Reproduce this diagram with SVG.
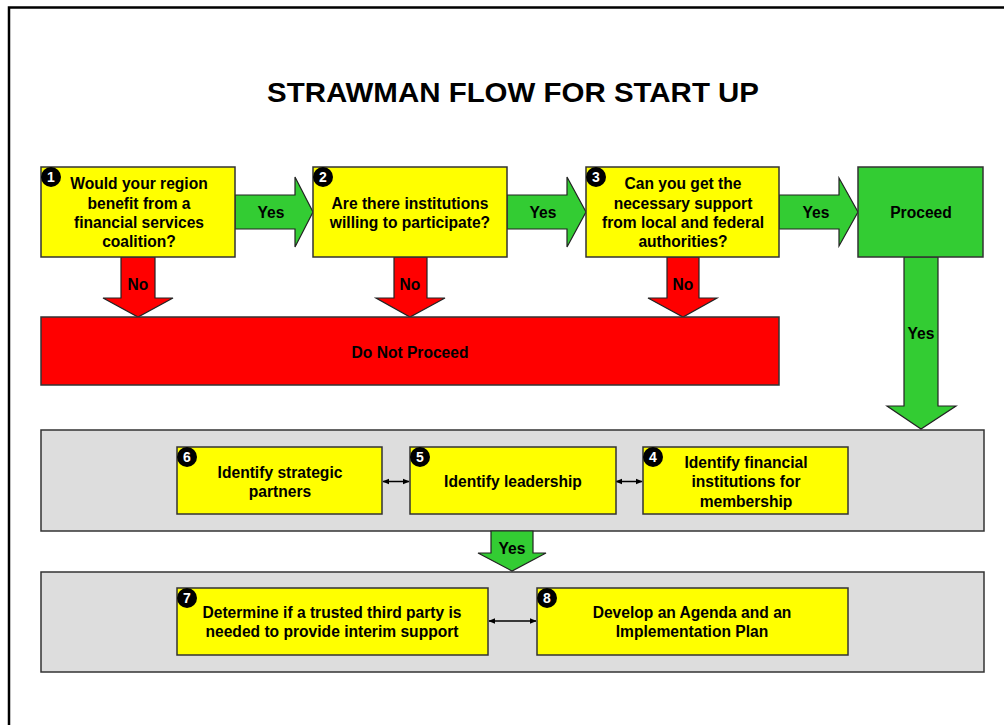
<svg xmlns="http://www.w3.org/2000/svg" width="1004" height="725" viewBox="0 0 1004 725">
<style>
text{font-family:"Liberation Sans",Arial,sans-serif;font-weight:bold;fill:#000}
.t{font-size:15.6px;text-anchor:middle}
.box{fill:#FFFF00;stroke:#333;stroke-width:1.5}
.gbox{fill:#33CC33;stroke:#333;stroke-width:1.5}
.rbox{fill:#FF0000;stroke:#333;stroke-width:1.5}
.panel{fill:#DDDDDD;stroke:#333;stroke-width:1.5}
.ga{fill:#33CC33;stroke:#222;stroke-width:1.2}
.ra{fill:#FF0000;stroke:#222;stroke-width:1.2}
.badge{fill:#000}
.bn{font-size:14px;fill:#fff;text-anchor:middle}
.dl{stroke:#000;stroke-width:1.5;fill:none;marker-start:url(#ah);marker-end:url(#ah)}
</style>
<defs>
<marker id="ah" viewBox="0 0 10 10" refX="9" refY="5" markerWidth="7" markerHeight="7" orient="auto-start-reverse" markerUnits="userSpaceOnUse">
<path d="M0,1 L10,5 L0,9 Z" fill="#000"/>
</marker>
</defs>
<rect x="0" y="0" width="1004" height="725" fill="#fff"/>
<path d="M9,725 L9,7.5 L1004,7.5" fill="none" stroke="#000" stroke-width="2.5"/>
<text x="513" y="102" style="font-size:28px" text-anchor="middle" textLength="492" lengthAdjust="spacingAndGlyphs">STRAWMAN FLOW FOR START UP</text>

<g id="panels">
<rect id="panel1" class="panel" x="41" y="430" width="943" height="101"/>
<rect id="panel2" class="panel" x="41" y="572" width="943" height="100"/>
</g>

<g id="connectors">
<path class="ga" d="M235,195 L295,195 L295,177 L313,212 L295,247 L295,229 L235,229 Z"/>
<text class="t" x="271" y="218">Yes</text>
<path class="ga" d="M507,195 L567,195 L567,177 L586,212 L567,247 L567,229 L507,229 Z"/>
<text class="t" x="543" y="218">Yes</text>
<path class="ga" d="M779,195 L839,195 L839,178 L858,212 L839,246 L839,229 L779,229 Z"/>
<text class="t" x="816" y="218">Yes</text>
<path class="ra" d="M121,257 L155,257 L155,298 L173,298 L138,317 L103,298 L121,298 Z"/>
<text class="t" x="138" y="290">No</text>
<path class="ra" d="M394,257 L427,257 L427,298 L445,298 L410,317 L376,298 L394,298 Z"/>
<text class="t" x="410" y="290">No</text>
<path class="ra" d="M667,257 L699,257 L699,298 L717,298 L683,317 L648,298 L667,298 Z"/>
<text class="t" x="683" y="290">No</text>
<path class="ga" d="M904,257 L938,257 L938,406 L956,406 L921,429 L887,406 L904,406 Z"/>
<text class="t" x="921" y="339">Yes</text>
<path class="ga" d="M491,531 L533,531 L533,553 L546,553 L512,571 L478,553 L491,553 Z"/>
<text class="t" x="512" y="554">Yes</text>
<line class="dl" x1="383" y1="481.5" x2="409" y2="481.5"/>
<line class="dl" x1="616" y1="481.5" x2="642" y2="481.5"/>
<line class="dl" x1="489" y1="621" x2="536" y2="621"/>
</g>

<g id="n1">
<rect class="box" x="41" y="167" width="194" height="90"/>
<circle class="badge" cx="51" cy="177" r="10"/><text class="bn" x="51" y="182">1</text>
<text class="t" x="139"><tspan x="139" y="189">Would your region</tspan><tspan x="139" y="209">benefit from a</tspan><tspan x="139" y="228">financial services</tspan><tspan x="139" y="247">coalition?</tspan></text>
</g>
<g id="n2">
<rect class="box" x="313" y="167" width="194" height="90"/>
<circle class="badge" cx="323" cy="177" r="10"/><text class="bn" x="323" y="182">2</text>
<text class="t" x="410"><tspan x="410" y="209">Are there institutions</tspan><tspan x="410" y="228">willing to participate?</tspan></text>
</g>
<g id="n3">
<rect class="box" x="586" y="167" width="193" height="90"/>
<circle class="badge" cx="596" cy="177" r="10"/><text class="bn" x="596" y="182">3</text>
<text class="t" x="683"><tspan x="683" y="189">Can you get the</tspan><tspan x="683" y="209">necessary support</tspan><tspan x="683" y="228">from local and federal</tspan><tspan x="683" y="247">authorities?</tspan></text>
</g>
<g id="proceed">
<rect class="gbox" x="858" y="167" width="125" height="90"/>
<text class="t" x="921" y="218">Proceed</text>
</g>
<g id="dnp">
<rect class="rbox" x="41" y="317" width="738" height="68"/>
<text class="t" x="410" y="358">Do Not Proceed</text>
</g>
<g id="n6">
<rect class="box" x="177" y="447" width="205" height="67"/>
<circle class="badge" cx="187" cy="457" r="10"/><text class="bn" x="187" y="462">6</text>
<text class="t" x="280"><tspan x="280" y="478">Identify strategic</tspan><tspan x="280" y="497">partners</tspan></text>
</g>
<g id="n5">
<rect class="box" x="410" y="447" width="206" height="67"/>
<circle class="badge" cx="420" cy="457" r="10"/><text class="bn" x="420" y="462">5</text>
<text class="t" x="513" y="487">Identify leadership</text>
</g>
<g id="n4">
<rect class="box" x="643" y="447" width="205" height="67"/>
<circle class="badge" cx="653" cy="457" r="10"/><text class="bn" x="653" y="462">4</text>
<text class="t" x="746"><tspan x="746" y="468">Identify financial</tspan><tspan x="746" y="487">institutions for</tspan><tspan x="746" y="507">membership</tspan></text>
</g>
<g id="n7">
<rect class="box" x="177" y="588" width="311" height="67"/>
<circle class="badge" cx="187" cy="598" r="10"/><text class="bn" x="187" y="603">7</text>
<text class="t" x="332"><tspan x="332" y="618">Determine if a trusted third party is</tspan><tspan x="332" y="637">needed to provide interim support</tspan></text>
</g>
<g id="n8">
<rect class="box" x="537" y="588" width="311" height="67"/>
<circle class="badge" cx="547" cy="598" r="10"/><text class="bn" x="547" y="603">8</text>
<text class="t" x="692"><tspan x="692" y="618">Develop an Agenda and an</tspan><tspan x="692" y="637">Implementation Plan</tspan></text>
</g>
</svg>
